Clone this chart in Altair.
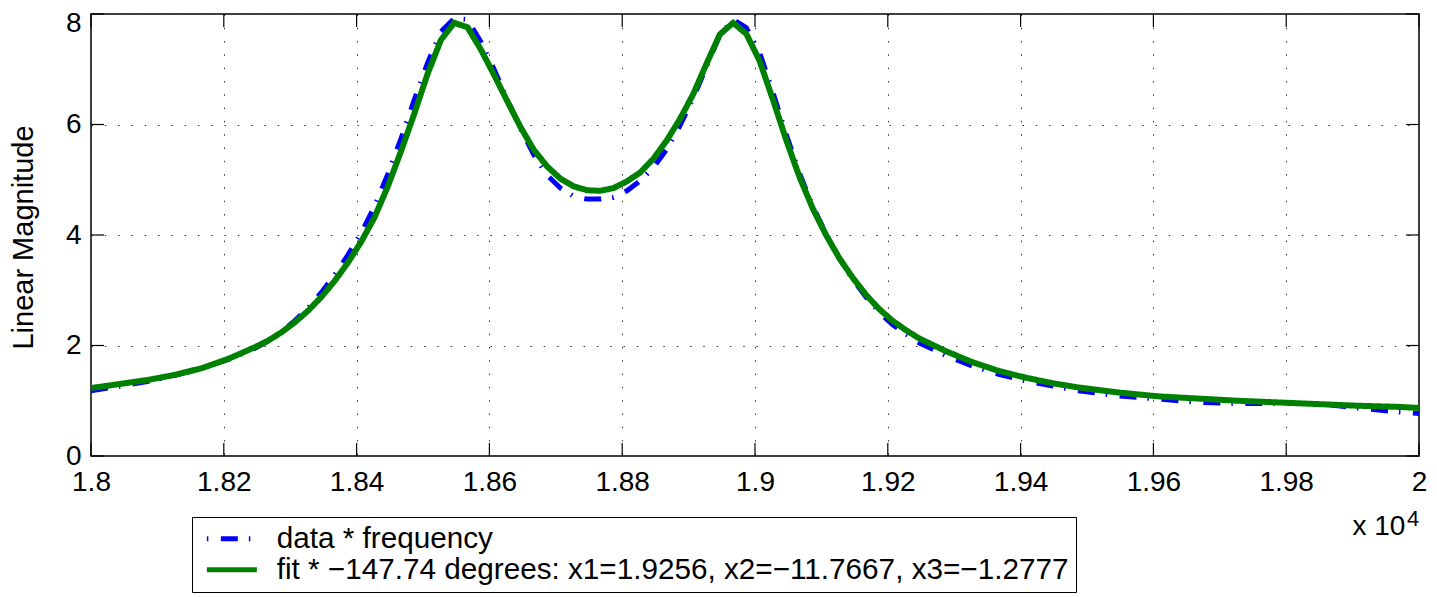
import altair as alt
import pandas as pd

# ---- data ----
FREQ = [18000, 18047, 18087, 18127, 18167, 18207, 18247, 18267, 18287, 18307,
        18327, 18347, 18367, 18387, 18407, 18427, 18447, 18467, 18487, 18507,
        18527, 18547, 18567, 18587, 18607, 18627, 18647, 18667, 18687, 18707,
        18727, 18747, 18767, 18787, 18807, 18827, 18847, 18867, 18887, 18907,
        18927, 18947, 18967, 18987, 19007, 19027, 19047, 19067, 19087, 19107,
        19127, 19147, 19167, 19187, 19207, 19227, 19247, 19287, 19327, 19367,
        19407, 19447, 19487, 19547, 19607, 19667, 19727, 19787, 19847, 19907,
        19967, 20000]

DATA = [1.18, 1.27, 1.35, 1.46, 1.59, 1.75, 1.95, 2.08, 2.25, 2.45,
        2.68, 2.96, 3.28, 3.64, 4.04, 4.52, 5.10, 5.75, 6.45, 7.12,
        7.68, 7.92, 7.90, 7.50, 7.00, 6.45, 5.92, 5.45, 5.08, 4.85,
        4.70, 4.65, 4.65, 4.68, 4.80, 4.98, 5.22, 5.55, 5.98, 6.48,
        7.05, 7.62, 7.90, 7.75, 7.30, 6.58, 5.82, 5.12, 4.52, 4.02,
        3.58, 3.20, 2.88, 2.60, 2.38, 2.21, 2.05, 1.82, 1.63, 1.48,
        1.36, 1.27, 1.18, 1.09, 1.03, 0.97, 0.95, 0.95, 0.95, 0.87,
        0.80, 0.77]

FIT = [1.23, 1.31, 1.38, 1.47, 1.59, 1.76, 1.97, 2.09, 2.24, 2.42,
       2.63, 2.88, 3.17, 3.50, 3.88, 4.32, 4.88, 5.52, 6.20, 6.92,
       7.53, 7.84, 7.76, 7.36, 6.90, 6.42, 5.95, 5.54, 5.24, 5.02,
       4.88, 4.81, 4.80, 4.85, 4.97, 5.13, 5.38, 5.71, 6.10, 6.55,
       7.10, 7.63, 7.84, 7.64, 7.15, 6.45, 5.72, 5.05, 4.48, 4.00,
       3.58, 3.23, 2.92, 2.66, 2.45, 2.28, 2.13, 1.90, 1.70, 1.54,
       1.42, 1.32, 1.24, 1.15, 1.08, 1.04, 1.00, 0.97, 0.94, 0.91,
       0.89, 0.87]

SERIES = ["data * frequency",
          "fit * \u2212147.74 degrees: x1=1.9256, x2=\u221211.7667, x3=\u22121.2777"]
COLORS = ["#0000ff", "#008000"]
X_TICKS = [18000, 18200, 18400, 18600, 18800, 19000, 19200, 19400, 19600, 19800, 20000]
Y_TICKS = [0, 2, 4, 6, 8]

n = len(FREQ)
df = pd.DataFrame({
    "f": FREQ + FREQ,
    "v": DATA + FIT,
    "series": [SERIES[0]] * n + [SERIES[1]] * n,
    "k": [0] * n + [1] * n,
})

W, H = 1328, 442
FONT = "Liberation Sans"
TL = 13  # inward tick length

x_scale = alt.Scale(domain=[18000, 20000], nice=False, zero=False)
y_scale = alt.Scale(domain=[0, 8], nice=False, zero=False)

grid_style = dict(grid=True, gridDash=[1.5, 11.8], gridColor="#333333", gridOpacity=1,
                  gridWidth=1, ticks=False, tickSize=0, domain=False,
                  labelColor="black", labelFont=FONT, labelFontSize=28,
                  titleColor="black", titleFont=FONT, titleFontWeight="normal")

x_axis = alt.Axis(values=X_TICKS, labelExpr="format(datum.value/10000, '~g')",
                  labelPadding=12, labelFlush=False, labelOverlap=False,
                  title="x 10", titleFontSize=28, titleX=1261, titleY=78,
                  titleAlign="left", titleBaseline="alphabetic", **grid_style)
y_axis = alt.Axis(values=Y_TICKS, format="d", labelPadding=10, labelOverlap=False,
                  labelOffset=alt.condition("datum.value == 8", alt.value(9), alt.value(0)),
                  title="Linear Magnitude", titleFontSize=29, titleAngle=270,
                  titleX=-59, titleY=223, titleAlign="center",
                  titleBaseline="alphabetic", **grid_style)

legend = alt.Legend(title=None, orient="none", legendX=101, legendY=503,
                    direction="vertical", symbolType="M-2.5,0H2.5", symbolSize=400,
                    symbolStrokeWidth=5, symbolDashOffset=28, symbolOffset=18,
                    labelOffset=30, labelFontSize=29.7, labelFont=FONT,
                    labelColor="black", labelLimit=2000, padding=7, rowPadding=0,
                    strokeColor="black", fillColor="white")

color = alt.Color("series:N", scale=alt.Scale(domain=SERIES, range=COLORS), legend=legend)
dash = alt.StrokeDash("series:N",
                      scale=alt.Scale(domain=SERIES, range=[[17, 11, 1.5, 12.5], [1, 0]]),
                      legend=legend)

base = alt.Chart(df).encode(
    x=alt.X("f:Q", scale=x_scale, axis=x_axis),
    y=alt.Y("v:Q", scale=y_scale, axis=y_axis),
    color=color,
    strokeDash=dash,
)

data_line = base.transform_filter(alt.datum.k == 0).mark_line(strokeWidth=5, strokeCap="butt")
fit_line = base.transform_filter(alt.datum.k == 1).mark_line(strokeWidth=6)

xt = pd.DataFrame({"f": X_TICKS})
yt = pd.DataFrame({"v": Y_TICKS})
tick_kw = dict(color="black", strokeWidth=1.2)
tick_bottom = alt.Chart(xt).mark_rule(**tick_kw).encode(
    x=alt.X("f:Q"), y=alt.value(H), y2=alt.value(H - TL))
tick_top = alt.Chart(xt).mark_rule(**tick_kw).encode(
    x=alt.X("f:Q"), y=alt.value(0), y2=alt.value(TL))
tick_left = alt.Chart(yt).mark_rule(**tick_kw).encode(
    y=alt.Y("v:Q"), x=alt.value(0), x2=alt.value(TL))
tick_right = alt.Chart(yt).mark_rule(**tick_kw).encode(
    y=alt.Y("v:Q"), x=alt.value(W - TL), x2=alt.value(W))

exponent = alt.Chart(pd.DataFrame({"t": ["4"]})).mark_text(
    fontSize=22, font=FONT, align="left", baseline="alphabetic", color="black"
).encode(text="t:N", x=alt.value(1316), y=alt.value(512))

chart = alt.layer(
    data_line, fit_line, tick_bottom, tick_top, tick_left, tick_right, exponent
).properties(
    width=W, height=H,
    padding={"left": 83, "top": 6, "right": 10, "bottom": 138},
    autosize=alt.AutoSizeParams(type="none"),
    background="white",
).configure_view(stroke="black", strokeWidth=1.5)

chart.save("out.html", embed_options={"renderer": "svg", "actions": False})
